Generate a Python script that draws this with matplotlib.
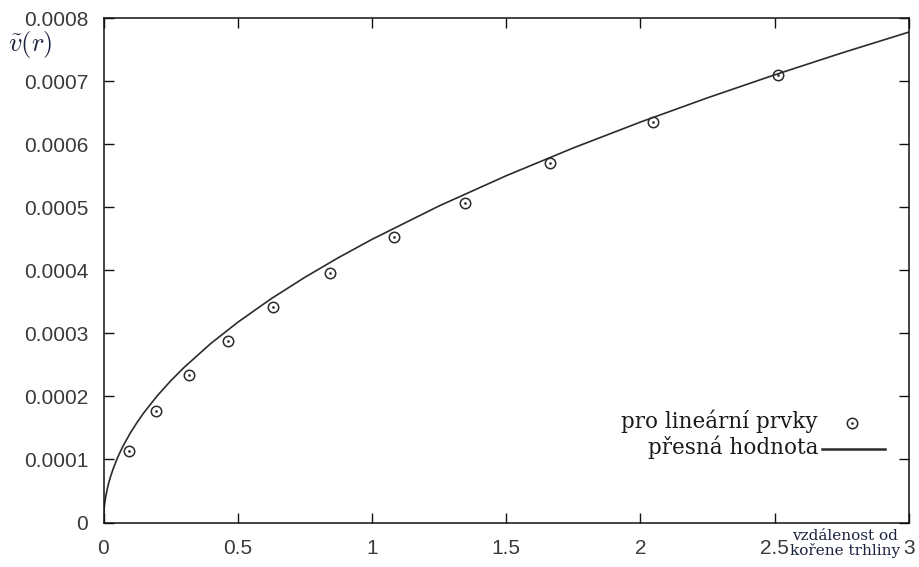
import matplotlib
matplotlib.use("Agg")
import matplotlib.pyplot as plt
from matplotlib.lines import Line2D

# data
r_pts = [0.096, 0.196, 0.318, 0.464, 0.631, 0.844, 1.083, 1.346, 1.663, 2.048, 2.512]
v_pts = [0.000114, 0.000177, 0.000234, 0.000288, 0.000342, 0.000396, 0.000452,
         0.000507, 0.000570, 0.000635, 0.000710]

r_curve = [0, 0.0005, 0.001, 0.002, 0.003, 0.0045, 0.006, 0.008, 0.01, 0.015, 0.02, 0.027,
           0.035, 0.05, 0.062, 0.075, 0.1, 0.125, 0.15, 0.2, 0.25, 0.3, 0.4,
           0.5, 0.625, 0.75, 0.875, 1.0, 1.25, 1.5, 1.75, 2.0, 2.25, 2.5, 2.75, 3.0]
v_curve = [0, 0.0000100, 0.0000142, 0.0000201, 0.0000246, 0.0000301, 0.0000348, 0.0000402,
           0.0000449, 0.0000550, 0.0000635, 0.0000738, 0.0000840, 0.0001004, 0.0001118,
           0.0001230, 0.0001420, 0.0001587, 0.0001739, 0.0002008, 0.0002245, 0.0002459,
           0.0002840, 0.0003175, 0.0003550, 0.0003888, 0.0004200, 0.0004490, 0.0005020,
           0.0005499, 0.0005940, 0.0006350, 0.0006735, 0.0007099, 0.0007446, 0.0007777]

x_ticks = [0, 0.5, 1, 1.5, 2, 2.5, 3]
x_tick_labels = ["0", "0.5", "1", "1.5", "2", "2.5", "3"]
y_ticks = [0, 0.0001, 0.0002, 0.0003, 0.0004, 0.0005, 0.0006, 0.0007, 0.0008]
y_tick_labels = ["0", "0.0001", "0.0002", "0.0003", "0.0004", "0.0005", "0.0006", "0.0007", "0.0008"]

legend_points = "pro lineární prvky"
legend_line = "přesná hodnota"
x_label = "vzdálenost od\nkořene trhliny"

W, H = 919, 567
fig = plt.figure(figsize=(W / 100, H / 100), dpi=100)
ax = fig.add_axes([103.5 / W, 1 - 522.5 / H, (909 - 103.5) / W, (522.5 - 18) / H])

line_col = "#2b2b2b"
ax.plot(r_curve, v_curve, color=line_col, lw=1.2, solid_capstyle="butt")
ax.plot(r_pts, v_pts, linestyle="none", marker="o", markersize=7.5, markerfacecolor="none",
        markeredgecolor=line_col, markeredgewidth=1.1)
ax.plot(r_pts, v_pts, linestyle="none", marker="o", markersize=1.6, markerfacecolor=line_col,
        markeredgecolor=line_col, markeredgewidth=0.3)

ax.set_xlim(0, 3)
ax.set_ylim(0, 0.0008)
ax.set_xticks(x_ticks)
ax.set_xticklabels(x_tick_labels)
ax.set_yticks(y_ticks)
ax.set_yticklabels(y_tick_labels)
ax.tick_params(direction="in", length=7, width=1.0, top=True, right=True,
               labelsize=15, labelcolor="#3a3a3a", color="#111111", pad=11)
ax.tick_params(axis="x", pad=12)
for s in ax.spines.values():
    s.set_linewidth(1.1)
    s.set_color("#111111")
for lab in ax.get_xticklabels() + ax.get_yticklabels():
    lab.set_fontfamily("Liberation Sans")

# legend drawn manually (gnuplot style)
serif = "DejaVu Serif"
fig.text(818 / W, 1 - 421 / H, legend_points, ha="right", va="center", fontsize=15.5,
         family=serif, color="#1a1a1a")
fig.text(818 / W, 1 - 447 / H, legend_line, ha="right", va="center", fontsize=15.5,
         family=serif, color="#1a1a1a")
fig.add_artist(Line2D([852 / W], [1 - 423 / H], marker="o", markersize=7.5,
                      markerfacecolor="none", markeredgecolor=line_col, markeredgewidth=1.1,
                      linestyle="none", transform=fig.transFigure))
fig.add_artist(Line2D([852 / W], [1 - 423 / H], marker="o", markersize=1.6,
                      markerfacecolor=line_col, markeredgecolor=line_col, markeredgewidth=0.3,
                      linestyle="none", transform=fig.transFigure))
fig.add_artist(Line2D([822 / W, 885 / W], [1 - 449 / H, 1 - 449 / H], color=line_col, lw=1.8,
                      transform=fig.transFigure))

# axis labels
fig.text(845 / W, 1 - 543 / H, x_label, ha="center", va="center", fontsize=11,
         family=serif, color="#1c2340", linespacing=1.0)
fig.text(8 / W, 1 - 45 / H, r"$\tilde{v}(r)$", ha="left", va="center", fontsize=19,
         color="#1c2340", math_fontfamily="cm")

fig.savefig("out.png", dpi=100)
